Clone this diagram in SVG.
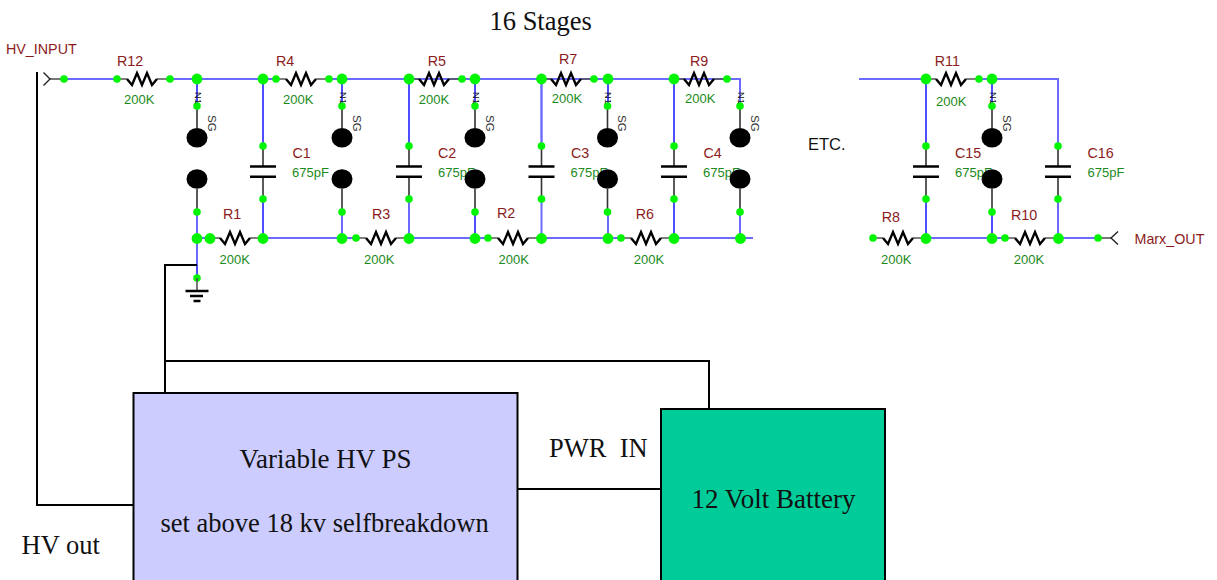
<svg xmlns="http://www.w3.org/2000/svg" width="1217" height="580" viewBox="0 0 1217 580">
<style>
text{font-family:"Liberation Sans",Arial,sans-serif}
.ref{font-size:14.300px;fill:#8b1c1c}
.val{font-size:13px;fill:#1c8a1c}
.sg{font-size:11.500px;fill:#333}
.n1{font-size:9.500px;fill:#111}
.etc{font-size:16.500px;fill:#111}
.ser{font-family:"Liberation Serif","Times New Roman",serif;font-size:26.500px;fill:#111;white-space:pre}
.big{font-size:27px}
.w{stroke:#6a6aff;stroke-width:2;fill:none}
.v{stroke:#1414ff;stroke-width:1.500;fill:none}
.g{stroke:#555;stroke-width:1.600;fill:none}
.c{stroke:#333;stroke-width:1.600;fill:none}
.b{stroke:#000;stroke-width:2;fill:none}
.h{stroke:#222;stroke-width:1.400;fill:none}
.t{stroke:#000;stroke-width:2.400;fill:none}
.pin{fill:#00f500}
</style>
<defs>
<g id="res"><path class="g" d="M0 0H10M40 0H53"/><path class="t" d="M10 0L15 6L20-6L25 6L30-6L35 6L40 0"/><circle class="pin" cx="0" cy="0" r="3.800"/><circle class="pin" cx="53" cy="0" r="3.800"/></g>
<g id="cap"><path class="c" d="M0 146V166M0 177V199"/><path class="t" d="M-13 166.500H13M-13 176.700H13"/><circle class="pin" cx="0" cy="146" r="3.800"/><circle class="pin" cx="0" cy="199" r="3.800"/></g>
<g id="sgap"><path class="c" d="M0 106V128M0 189V212"/><ellipse cx="0" cy="137.700" rx="10.500" ry="9.800" fill="#000"/><ellipse cx="0" cy="179" rx="10.500" ry="9.800" fill="#000"/><circle class="pin" cx="0" cy="106" r="3.800"/><circle class="pin" cx="0" cy="212" r="3.800"/><text class="n1" transform="translate(-2.500 92) rotate(90)">N1</text><text class="sg" transform="translate(10.500 115) rotate(90)">SG</text></g>
<circle id="j" class="pin" r="5.400"/>
</defs>

<g id="connectors">
<path class="w" d="M64 79H117M170 79H276M329 79H462M462 79H594M594 79H727M727 79H740V106"/>
<path class="w" d="M859 79H926M979 79H1058V146M1058 199V238"/>
<path class="w" d="M197 238H210M263 238H356M409 238H488M541 238H621M674 238H753M926 238H1005M1058 238H1098"/>
<path class="w" d="M197 212V265M409 199V238M541.500 199V238M608 212V238M740 212V238M342 212V238"/>
<path class="v" d="M197 79V106M197 265V278M263 79V146M263 199V238M342 79V106M409 79V146M475 79V106M475 212V238M541.500 79V146M608 79V106M674 79V146M674 199V238M926 79V146M926 199V238M992 79V106M992 212V238"/>
<path class="w" d="M541.500 79V146"/>
<path class="b" d="M37 72V505H133M197 265H165V393M165 361H709V409M517 489H661"/>
</g>

<g id="HV_INPUT"><path class="g" d="M50 79H64"/><path class="h" d="M43.500 72.500L50 79L43.500 85.500"/><circle class="pin" cx="64" cy="79" r="3.800"/><text class="ref" x="6" y="54">HV_INPUT</text></g>
<g id="Marx_OUT"><path class="g" d="M1098 238H1111"/><path class="h" d="M1118 231.500L1111 238L1118 244.500"/><circle class="pin" cx="1098" cy="238" r="3.800"/><text class="ref" x="1134.500" y="244">Marx_OUT</text></g>
<g id="GND"><circle class="pin" cx="197" cy="278" r="3.800"/><path class="g" d="M197 278V291"/><path class="t" d="M185.500 291H208.500M190 296H203M193.500 301H200.500"/></g>

<g id="R12"><use href="#res" x="117" y="79"/><text class="ref" x="117" y="66">R12</text><text class="val" x="124" y="104">200K</text></g>
<g id="R4"><use href="#res" x="276" y="79"/><text class="ref" x="276" y="66">R4</text><text class="val" x="283" y="104">200K</text></g>
<g id="R5"><use href="#res" x="409" y="79"/><text class="ref" x="427.700" y="66">R5</text><text class="val" x="418.700" y="104">200K</text></g>
<g id="R7"><use href="#res" x="541" y="79"/><text class="ref" x="559" y="64">R7</text><text class="val" x="551.700" y="103">200K</text></g>
<g id="R9"><use href="#res" x="674" y="79"/><text class="ref" x="690" y="66">R9</text><text class="val" x="685" y="103">200K</text></g>
<g id="R11"><use href="#res" x="926" y="79"/><text class="ref" x="934.700" y="66">R11</text><text class="val" x="936" y="106">200K</text></g>
<g id="R1"><use href="#res" x="210" y="238"/><text class="ref" x="223" y="219">R1</text><text class="val" x="219.500" y="264">200K</text></g>
<g id="R3"><use href="#res" x="356" y="238"/><text class="ref" x="372" y="219">R3</text><text class="val" x="364" y="264">200K</text></g>
<g id="R2"><use href="#res" x="488" y="238"/><text class="ref" x="497" y="217.500">R2</text><text class="val" x="498.500" y="264">200K</text></g>
<g id="R6"><use href="#res" x="621" y="238"/><text class="ref" x="635.700" y="219">R6</text><text class="val" x="633.700" y="264">200K</text></g>
<g id="R8"><use href="#res" x="873" y="238"/><text class="ref" x="881.700" y="222">R8</text><text class="val" x="881" y="264">200K</text></g>
<g id="R10"><use href="#res" x="1005" y="238"/><text class="ref" x="1011" y="220">R10</text><text class="val" x="1013.700" y="264">200K</text></g>

<g id="C1"><use href="#cap" x="263"/><text class="ref" x="292.500" y="158">C1</text><text class="val" x="292" y="177">675pF</text></g>
<g id="C2"><use href="#cap" x="409"/><text class="ref" x="438" y="158">C2</text><text class="val" x="438" y="177">675pF</text></g>
<g id="C3"><use href="#cap" x="541.500"/><text class="ref" x="571" y="158">C3</text><text class="val" x="570.500" y="177">675pF</text></g>
<g id="C4"><use href="#cap" x="674"/><text class="ref" x="703.500" y="158">C4</text><text class="val" x="703" y="177">675pF</text></g>
<g id="C15"><use href="#cap" x="926"/><text class="ref" x="955" y="158">C15</text><text class="val" x="955" y="177">675pF</text></g>
<g id="C16"><use href="#cap" x="1058"/><text class="ref" x="1087.500" y="158">C16</text><text class="val" x="1087.500" y="177">675pF</text></g>

<g id="SG1"><use href="#sgap" x="197"/></g>
<g id="SG2"><use href="#sgap" x="342"/></g>
<g id="SG3"><use href="#sgap" x="475"/></g>
<g id="SG4"><use href="#sgap" x="607.500"/></g>
<g id="SG5"><use href="#sgap" x="740"/></g>
<g id="SG6"><use href="#sgap" x="992"/></g>

<g id="junctions">
<use href="#j" x="197" y="79"/><use href="#j" x="263" y="79"/><use href="#j" x="342" y="79"/><use href="#j" x="409" y="79"/><use href="#j" x="475" y="79"/><use href="#j" x="541.500" y="79"/><use href="#j" x="608" y="79"/><use href="#j" x="674" y="79"/><use href="#j" x="926" y="79"/><use href="#j" x="992" y="79"/>
<use href="#j" x="197" y="238.500"/><use href="#j" x="210" y="238.500"/><use href="#j" x="263" y="238.500"/><use href="#j" x="342" y="238.500"/><use href="#j" x="409" y="238.500"/><use href="#j" x="475" y="238.500"/><use href="#j" x="541.500" y="238.500"/><use href="#j" x="608" y="238.500"/><use href="#j" x="674" y="238.500"/><use href="#j" x="740.500" y="238.500"/><use href="#j" x="926" y="238.500"/><use href="#j" x="992" y="238.500"/><use href="#j" x="1058.500" y="238.500"/>
</g>

<g id="PS"><rect x="133.500" y="393" width="384" height="190" fill="#ccccff" stroke="#000" stroke-width="2"/><text class="ser big" x="239.500" y="468">Variable HV PS</text><text class="ser" x="160.500" y="532">set above 18 kv selfbreakdown</text></g>
<g id="Battery"><rect x="661" y="409" width="224" height="174" fill="#00cc99" stroke="#000" stroke-width="2"/><text class="ser big" x="691.500" y="508">12 Volt Battery</text></g>

<text class="ser" x="489.500" y="30">16 Stages</text>
<text class="etc" x="808" y="150">ETC.</text>
<text class="ser" x="549" y="457">PWR  IN</text>
<text class="ser" x="21.500" y="554">HV out</text>
</svg>
